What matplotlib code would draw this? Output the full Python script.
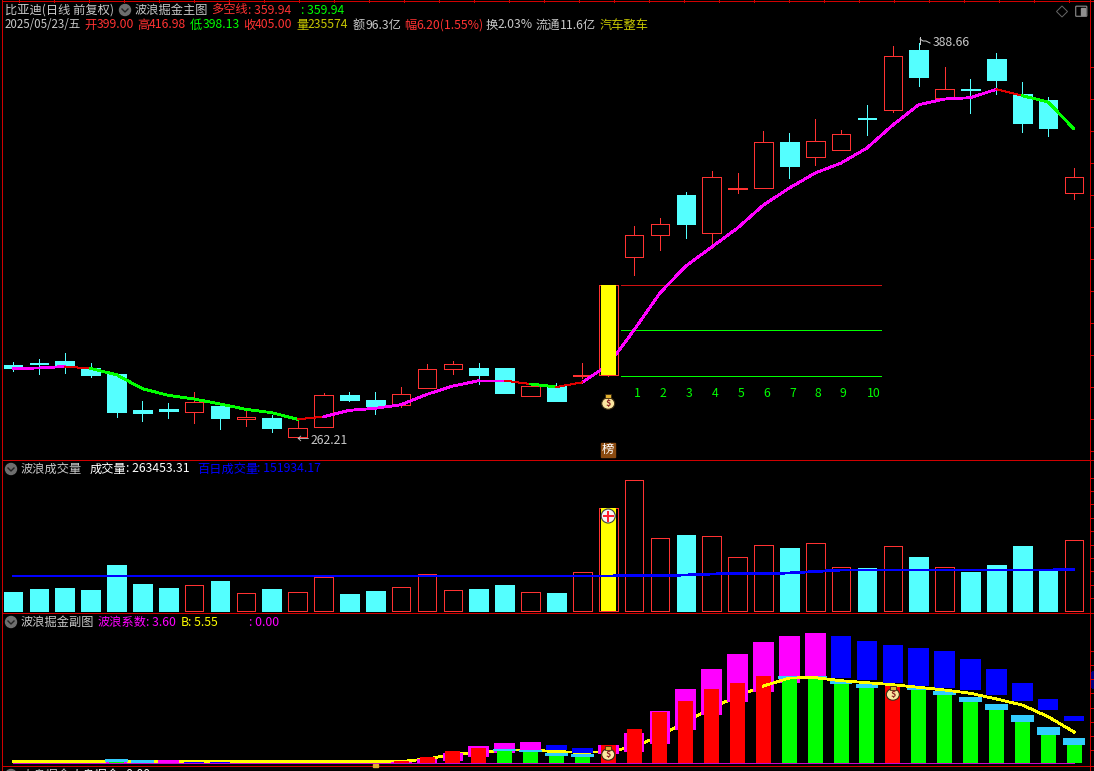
import numpy as np
import matplotlib
matplotlib.use('Agg')
import matplotlib.pyplot as plt
from matplotlib.patches import Rectangle, Ellipse, Circle, FancyBboxPatch, Polygon

plt.rcParams['font.family'] = ['Noto Sans CJK SC', 'DejaVu Sans']

# Candles (price)
opens = [285.57, 286.21, 286.85, 284.61, 282.69, 271.17, 271.49, 270.53, 272.45, 268.29, 268.61, 262.37, 265.57, 275.97,
         274.37, 272.77, 278.21, 284.29, 284.61, 284.61, 275.65, 278.85, 282.21, 282.37, 320.13, 327.17, 339.97, 327.81,
         341.73, 342.21, 356.93, 352.13, 354.37, 364.45, 367.17, 386.37, 371.01, 373.73, 383.49, 372.29, 370.37, 340.61]
highs = [286.53, 287.49, 289.41, 286.21, 282.69, 274.05, 273.41, 276.93, 272.45, 271.17, 269.57, 267.65, 276.61, 276.93,
         276.93, 278.53, 285.89, 286.85, 286.21, 284.61, 279.81, 279.81, 286.21, 311.17, 330.05, 332.61, 340.93, 347.65,
         347.01, 360.45, 359.81, 364.29, 360.77, 368.77, 387.65, 388.66, 380.93, 377.09, 385.41, 376.13, 371.33, 348.61]
lows = [283.65, 282.69, 283.01, 281.73, 268.93, 267.65, 268.61, 267.01, 265.09, 266.05, 264.13, 262.21, 265.57, 274.05,
        269.89, 272.13, 278.21, 282.69, 279.49, 276.61, 275.65, 274.05, 281.41, 282.05, 314.37, 322.37, 326.21, 323.01,
        340.61, 342.21, 345.41, 349.57, 354.37, 359.17, 366.53, 374.85, 371.01, 366.21, 372.29, 360.13, 358.85, 338.69]
closes = [284.61, 285.89, 285.25, 282.37, 270.53, 270.21, 270.85, 273.73, 268.61, 268.93, 265.41, 265.41, 275.97, 274.37,
          272.45, 276.29, 284.29, 285.89, 282.37, 276.61, 278.85, 274.05, 282.37, 311.17, 327.17, 330.69, 330.69, 345.73,
          342.05, 356.93, 349.25, 357.25, 359.49, 364.29, 384.45, 377.73, 373.89, 373.41, 376.77, 362.97, 361.41, 345.73]

# Wave line and its colour per segment
wave = [284.45, 284.61, 285.09, 284.45, 282.47, 277.99, 275.87, 274.69, 273.09, 271.39, 270.31, 268.19, 269.03, 271.07,
        271.71, 272.87, 276.19, 278.85, 280.55, 280.55, 279.49, 278.53, 280.03, 285.57, 296.77, 308.61, 317.25, 323.33,
        329.41, 336.77, 342.21, 347.01, 350.21, 355.01, 362.37, 368.87, 370.69, 371.11, 373.79, 371.75, 369.73, 361.09]
waveState = list('mmrggggggggrmmmmmmmrgrmmmmmmmmmmmmmmmmrgg')

levels = [311.17, 296.77, 282.05]
levelColors = ['#d01010', '#00ff00', '#00ff00']
countLabels = ['1', '2', '3', '4', '5', '6', '7', '8', '9', '10']
countPos = [24.12, 25.12, 26.12, 27.12, 28.12, 29.12, 30.12, 31.12, 32.08, 33.27]

# Volume
volume = [81700, 94600, 98900, 90300, 197800, 116100, 98900, 110500, 129000, 76100, 94600, 80400, 144900, 73100,
          86000, 101900, 159100, 90300, 94600, 111800, 81700, 77400, 167700, 442900, 563300, 313900, 326800, 322500,
          232200, 283800, 270900, 292400, 189200, 184900, 279500, 232200, 189200, 167700, 197800, 279500, 172000, 305300]
volumeMA = [150500] * 24 + [152650, 152650, 154800, 159100, 161250, 161250, 163400, 169850, 176300, 176300,
                            176300, 176300, 176300, 176300, 176300, 176300, 176300, 178450]

# Lower panel: narrow bars, caps, floating wide bars, yellow line
narrow = [0, 0, 0, 0, 0.4, 0.2, 0, 0, 0, 0, 0, 0, 0, 0, 0, 0.4, 1.2, 2.4, 3.06, 2.6, 2.46, 1.6, 1.46, 3.6, 6.8, 10.26,
          12.4, 14.8, 16.0, 17.4, 17.06, 17.06, 16.0, 15.2, 15.4, 14.8, 13.8, 12.4, 10.8, 8.4, 5.8, 3.8]
capTop = [0, 0, 0, 0, 0.74, 0.54, 0, 0, 0, 0, 0, 0, 0, 0, 0, 0, 0, 0, 0, 2.74, 2.6, 2.0, 1.86, 0, 0, 0,
          0, 0, 0, 0, 17.46, 17.34, 16.6, 15.8, 0, 15.2, 14.4, 13.2, 11.8, 9.6, 7.2, 5.0]
wideHi = [0, 0, 0, 0, 0.2, 0.2, 0.54, 0.3, 0.3, 0.1, 0, 0, 0, 0, 0, 0.2, 0.8, 2.0, 3.4, 4.0, 4.2, 3.6, 3.0, 3.6, 6.0, 10.4,
          14.8, 18.8, 21.8, 24.2, 25.4, 26.0, 25.4, 24.4, 23.6, 23.0, 22.4, 20.8, 18.8, 16.0, 12.8, 9.4]
wideLo = [0, 0, 0, 0, 0, 0, 0, 0.1, 0, 0, 0, 0, 0, 0, 0, 0, 0, 0.4, 1.2, 2.0, 2.46, 2.6, 2.06, 1.8, 2.26, 3.8,
          6.6, 9.6, 12.2, 14.2, 16.0, 16.8, 17.06, 16.6, 15.94, 15.4, 15.0, 14.6, 13.6, 12.4, 10.6, 8.4]
wideBlue = [0, 0, 0, 0, 0, 0, 0, 1, 1, 1, 0, 0, 0, 0, 0, 0, 0, 0, 0, 0, 0, 1, 1, 0, 0, 0,
            0, 0, 0, 0, 0, 0, 1, 1, 1, 1, 1, 1, 1, 1, 1, 1]
yellowLine = [0.3, 0.3, 0.3, 0.3, 0.3, 0.3, 0.3, 0.3, 0.3, 0.3, 0.3, 0.3, 0.3, 0.3, 0.3, 0.3, 0.8, 1.74,
              2.0, 2.6, 2.6, 2.26, 2.14, 2.26, 3.26, 5.4, 8.26, 10.94, 13.4, 15.4, 17.0, 17.06, 16.46, 16.06, 15.66,
              15.14, 14.6, 13.94, 12.8, 11.6, 9.26, 6.2]

RED = '#ff3232'
CYAN = '#54ffff'
FRAME = '#d00000'
GRAY = '#c8c8c8'
THIN = 0.72
THICK = 1.3
W, H = 1094, 771
idx = np.arange(len(closes))
xlim = (-0.386, 41.618)

fig = plt.figure(figsize=(W / 100, H / 100), dpi=100, facecolor='black')

def panel(top, bottom, ylim):
    ax = fig.add_axes([3 / W, (H - bottom) / H, 1087 / W, (bottom - top) / H], facecolor='black')
    ax.set_xlim(*xlim)
    ax.set_ylim(*ylim)
    ax.axis('off')
    return ax

axMain = panel(2, 460, (255.17, 401.73))
axVol = panel(461, 613, (-8600, 645000))
axSub = panel(613, 767, (-0.8, 30))

# Overlay in pixel coordinates for frame, text and icons
ov = fig.add_axes([0, 0, 1, 1], facecolor='none')
ov.set_xlim(0, W)
ov.set_ylim(H, 0)
ov.axis('off')

# Main panel
for i in idx:
    up = closes[i] >= opens[i]
    col = RED if up else CYAN
    axMain.vlines(i, lows[i], highs[i], color=col, lw=THIN, zorder=2, antialiased=False)
    lo, hi = min(opens[i], closes[i]), max(opens[i], closes[i])
    axMain.bar(i, hi - lo, 0.72, bottom=lo, facecolor='black' if up else CYAN, edgecolor=col, lw=THIN, zorder=3,
               antialiased=False)
axMain.bar(23, closes[23] - opens[23], 0.58, bottom=opens[23], color='#ffff00', zorder=4, antialiased=False)

segStyle = {'m': ('#ff00ff', THICK), 'g': ('#00ff00', THICK), 'r': ('#e00000', THIN)}
for i, s in enumerate(waveState):
    c, lw = segStyle[s]
    axMain.plot(idx[i:i + 2], wave[i:i + 2], color=c, lw=lw, zorder=3.5 if i in (22, 23) else 5, solid_capstyle='round',
                antialiased=False)
axMain.hlines(levels, 23.49, 33.54, colors=levelColors, lw=THIN, zorder=2.5, antialiased=False)
for t, x in zip(countLabels, countPos):
    axMain.text(x, 276.4, t, color='#00ff00', fontsize=8.8, ha='center', va='center')

# Volume panel
for i in idx:
    up = closes[i] >= opens[i]
    col = RED if up else CYAN
    axVol.bar(i, volume[i], 0.72, facecolor='black' if up else CYAN, edgecolor=col, lw=THIN, zorder=2, antialiased=False)
axVol.bar(23, volume[23], 0.58, color='#ffff00', zorder=3, antialiased=False)
axVol.plot(idx, volumeMA, color='#0000ff', lw=THICK, zorder=4, antialiased=False)

# Lower panel
for i in idx:
    if wideHi[i] > wideLo[i]:
        axSub.bar(i, wideHi[i] - wideLo[i], 0.8, bottom=wideLo[i], color='#0000ff' if wideBlue[i] else '#ff00ff',
                  zorder=2, antialiased=False)
    if narrow[i] > 0:
        green = capTop[i] > 0
        axSub.bar(i, narrow[i], 0.58, color='#00ff00' if green else '#ff0000', zorder=4, antialiased=False)
        if green:
            axSub.bar(i, capTop[i] - narrow[i] + 0.2, 0.88, bottom=narrow[i] - 0.2, color='#33ccff', zorder=4.5,
                      antialiased=False)
axSub.plot(idx[:30], yellowLine[:30], color='#ffff00', lw=THICK, zorder=1, antialiased=False)
axSub.plot(idx[29:], yellowLine[29:], color='#ffff00', lw=THICK, zorder=5, antialiased=False)
axSub.hlines(0, 0, 41, color='#d000d0', lw=THIN, zorder=3, antialiased=False)

# Frame and right side ticks
ov.hlines([0.5, 459.5, 612.5, 765.5], 2, 1094, color=FRAME, lw=THIN, antialiased=False)
ov.vlines(1.5, 0, H, color=FRAME, lw=THIN, antialiased=False)
ov.vlines(1089.5, 0, H, color=FRAME, lw=THIN, antialiased=False)
rightTicks = list(np.arange(66.7, 460, 32)) + list(np.arange(477.7, 605, 13.4)) + list(np.arange(650.7, 760, 14.2))
ov.hlines(rightTicks, 1090, 1094, color=FRAME, lw=THIN, antialiased=False)
ov.vlines(np.arange(19, 1094, 35), 0, 1.5, color=FRAME, lw=THIN, antialiased=False)
ov.add_patch(Rectangle((1091.5, 671.5), 3, 15, color='#000080', antialiased=False))

def put(x, y, s, color=GRAY, size=8.8):
    ov.text(x, y, s, color=color, fontsize=size, ha='left', va='center')

def arrowIcon(x, y):
    ov.add_patch(Circle((x, y), 5.5, color='#6e6e6e', zorder=6))
    ov.plot([x - 3, x, x + 3], [y - 1, y + 2, y - 1], color='#222222', lw=1, zorder=7)

# Header text
rowA, rowB = 10, 25
put(5, rowA, '比亚迪(日线 前复权)')
arrowIcon(125, 10)
put(135, rowA, '波浪掘金主图')
put(211, rowA, '多空线', RED)
put(248, rowA, ': 359.94', RED)
put(301, rowA, ': 359.94', '#00ff00')

headerTexts = ['2025/05/23/五', '开', '399.00', '高', '416.98', '低', '398.13', '收', '405.00', '量', '235574', '额', '96.3亿',
               '幅', '6.20(1.55%)', '换', '2.03%', '流通', '11.6亿', '汽车整车']
headerX = [5, 84, 97, 137, 149, 190, 203, 243, 255, 296, 308, 353, 365, 404, 416, 486, 498, 536, 560, 600]
headerCol = [GRAY, RED, RED, RED, RED, '#00ff00', '#00ff00', RED, RED, '#c8c800', '#c8c800', GRAY, GRAY, RED, RED, GRAY,
             GRAY, GRAY, GRAY, '#c8c800']
for t, x, c in zip(headerTexts, headerX, headerCol):
    put(x, rowB, t, c, 8.3 if t.startswith('2025') else 8.8)

arrowIcon(11, 469)
put(21, 469, '波浪成交量')
put(90, 469, '成交量', '#ffffff')
put(126, 469, ': 263453.31', '#ffffff')
put(197, 469, '百日成交量', '#0000ff')
put(257, 469, ': 151934.17', '#0000ff')

arrowIcon(11, 622)
put(21, 622, '波浪掘金副图')
put(98, 622, '波浪系数', '#ff00ff')
put(146, 622, ': 3.60', '#ff00ff')
put(181, 622, 'B', '#ffff00')
put(188, 622, ': 5.55', '#ffff00')
put(249, 622, ': 0.00', '#ff00ff')

# Fourth panel header, cut by the window edge as in the screenshot
arrowIcon(11, 775)
put(21, 775, '大盘掘金')
put(70, 775, '大盘掘金', '#ffffff')
put(120, 775, ': 0.00', '#ffffff')

# Top right buttons
ov.add_patch(Polygon([(1062, 6), (1067.5, 11.5), (1062, 17), (1056.5, 11.5)], closed=True, fill=False, ec='#666666', lw=0.7))
ov.add_patch(FancyBboxPatch((1076.5, 7), 9.5, 8.5, boxstyle='round,pad=0.8', fill=False, ec='#808080', lw=0.9))
ov.add_patch(Rectangle((1081, 8), 4, 7, color='#909090'))

# High and low labels
put(933, 43, '388.66', GRAY, 8.8)
put(311, 441, '262.21', GRAY, 8.8)
put(297, 439, '←', GRAY, 8.8)
ov.plot([919.5, 919.5], [37, 44], color=GRAY, lw=THIN, antialiased=False)
ov.plot([920, 923, 926, 930], [39, 41, 41, 43], color=GRAY, lw=THIN)

def toPix(ax, i, v):
    px, py = ax.transData.transform((i, v))
    return px, H - py

def moneyBag(ax, i, v):
    x, y = toPix(ax, i, v)
    ov.add_patch(Ellipse((x, y + 1.5), 13, 11.5, fc='#fbe6a0', ec='#3a2a10', lw=0.8, zorder=8))
    ov.add_patch(Rectangle((x - 3, y - 7.5), 6, 4, fc='#e0b030', ec='#3a2a10', lw=0.6, zorder=8))
    ov.text(x, y + 1.5, '$', color='#8a2020', fontsize=6.5, fontweight='bold', ha='center', va='center', zorder=9)

moneyBag(axMain, 23, 273.73)
moneyBag(axSub, 23, 2.0)
moneyBag(axSub, 34, 14.0)

# Plus badge on the volume bar
bx, by = toPix(axVol, 23, 408500)
ov.add_patch(Circle((bx, by), 7, fc='#f4f4f4', ec='#404040', lw=0.8, zorder=8))
ov.plot([bx - 4.5, bx + 4.5], [by, by], color='#ff2030', lw=1.3, zorder=9, antialiased=False)
ov.plot([bx, bx], [by - 4.5, by + 4.5], color='#ff2030', lw=1.3, zorder=9, antialiased=False)

# 榜 tag at the foot of the main panel
tx, ty = toPix(axMain, 23, 258.4)
ov.add_patch(Rectangle((tx - 7, ty - 6.5), 13.5, 13.5, color='#8a4a10', zorder=8))
ov.text(tx, ty, '榜', color='white', fontsize=8.8, ha='center', va='center', zorder=9)

# Small gold mark near the bottom of the lower panel
mx, my = toPix(axSub, 14, -0.4)
ov.add_patch(Rectangle((mx - 2.5, my - 1), 5, 3, color='#e0b030', zorder=8))

fig.savefig('out.png', dpi=100, facecolor='black')
